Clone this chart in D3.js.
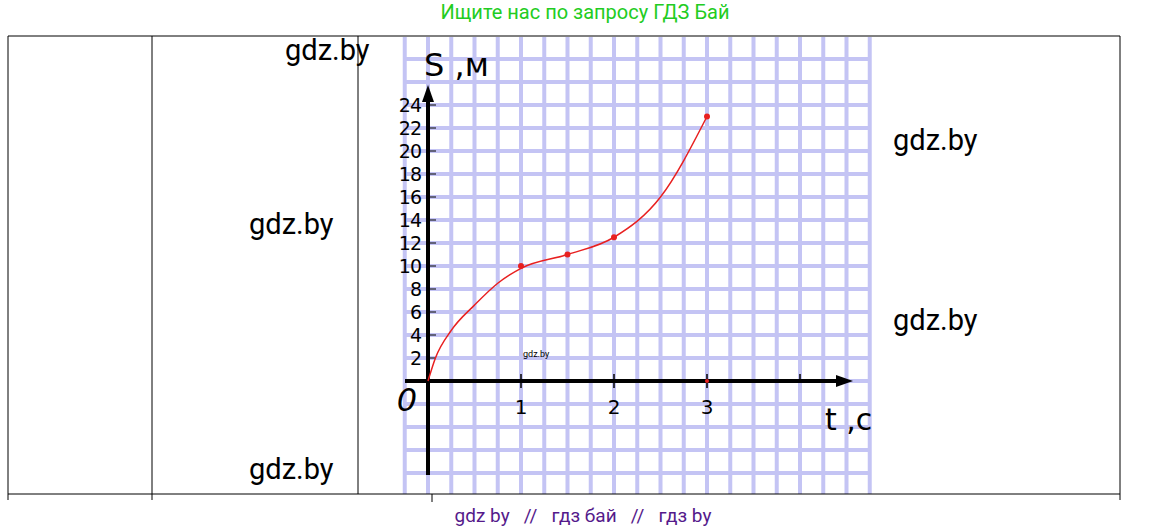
<!DOCTYPE html><html><head><meta charset="utf-8"><script src="https://d3js.org/d3.v7.min.js"></script>
<style>body{margin:0;background:#fff}</style></head><body><svg id="c" width="1168" height="529"></svg>
<script>
const tVals=[0,0.08,0.25,0.5,0.75,1,1.5,2,2.5,3];
const sVals=[0,2,4.4,6.6,8.5,9.8,11,12.5,16,23];
const markT=[1,1.5,2,3];
const markS=[10,11,12.5,23];
const xTicks=[1,2,3];
const yTicks=[2,4,6,8,10,12,14,16,18,20,22,24];
const svg=d3.select("#c");
const x=d3.scaleLinear().domain([0,1]).range([428,521]);
const y=d3.scaleLinear().domain([0,10]).range([381,266]);
svg.append("text").attr("x",585).attr("y",19).attr("text-anchor","middle").attr("fill","#22cc22").style("font","20px Roboto").text("Ищите нас по запросу ГДЗ Бай");
const g=svg.append("g");
g.append("rect").attr("x",403).attr("y",37).attr("width",467).attr("height",457).attr("fill","#fff");
for(let k=-1;k<=19;k++){const xx=x(k/4);if(xx>=402&&xx<=871)g.append("line").attr("x1",xx).attr("x2",xx).attr("y1",37).attr("y2",494).attr("stroke","#c4c4f4").attr("stroke-width",4);}
for(let v=-10;v<=30;v+=2){const yy=y(v);if(yy>=37&&yy<=494)g.append("line").attr("y1",yy).attr("y2",yy).attr("x1",403).attr("x2",870).attr("stroke","#c4c4f4").attr("stroke-width",4);}
const L=(a,b,c,d,w=1)=>svg.append("line").attr("x1",a).attr("y1",b).attr("x2",c).attr("y2",d).attr("stroke","#000").attr("stroke-width",w);
L(8,36,1120,36);L(8,494,1120,494);L(8,36,8,494);L(152,36,152,494);L(358,36,358,494);L(1120,36,1120,494);
L(8,494,8,500);L(152,494,152,500);L(432,494,432,502);L(1120,494,1120,500);
L(428,475,428,100,4);L(405,381,838,381,4);
svg.append("path").attr("d","M428,85 L422,102 L434,102Z");
svg.append("path").attr("d","M853,381 L836,375 L836,387Z");
xTicks.forEach(t=>{L(x(t),374,x(t),388,1.5);svg.append("text").attr("x",x(t)).attr("y",414).attr("text-anchor","middle").style("font","20px 'DejaVu Sans'").attr("font-weight","200").text(t);});
L(x(4),374,x(4),381,1.5);
yTicks.forEach(v=>{L(428,y(v),436,y(v),1);svg.append("text").attr("x",421).attr("y",y(v)+7).attr("text-anchor","end").style("font","19px 'DejaVu Sans'").attr("font-weight","200").attr("letter-spacing","-1").text(v);});
svg.append("text").attr("x",407).attr("y",411).attr("text-anchor","middle").style("font","italic 32px 'DejaVu Sans'").text("0");
svg.append("text").attr("x",424).attr("y",76).style("font","32px 'DejaVu Sans'").attr("font-weight","200").text("S ,м");
svg.append("text").attr("x",825).attr("y",430).style("font","30px 'DejaVu Sans'").attr("font-weight","200").text("t ,с");
const line=d3.line().x((d,i)=>x(tVals[i])).y(d=>y(d)).curve(d3.curveMonotoneX);
svg.append("path").attr("d",line(sVals)).attr("fill","none").attr("stroke","#e82020").attr("stroke-width",1.5);
markT.forEach((t,i)=>svg.append("circle").attr("cx",x(t)).attr("cy",y(markS[i])).attr("r",3).attr("fill","#e82020"));
svg.append("circle").attr("cx",x(3)).attr("cy",381).attr("r",2).attr("fill","#e82020");
const W=(tx,ty,s)=>svg.append("text").attr("x",tx).attr("y",ty).style("font",s+"px Roboto").text("gdz.by");
W(285,60,29);W(249,234,29);W(249,479,29);W(893,150,29);W(893,330,29);W(523,357,9);
svg.append("text").attr("x",583).attr("y",522).attr("text-anchor","middle").attr("fill","#551a8b").style("white-space","pre").style("font","19px Roboto").text("gdz by   //   гдз бай   //   гдз by");
</script></body></html>
